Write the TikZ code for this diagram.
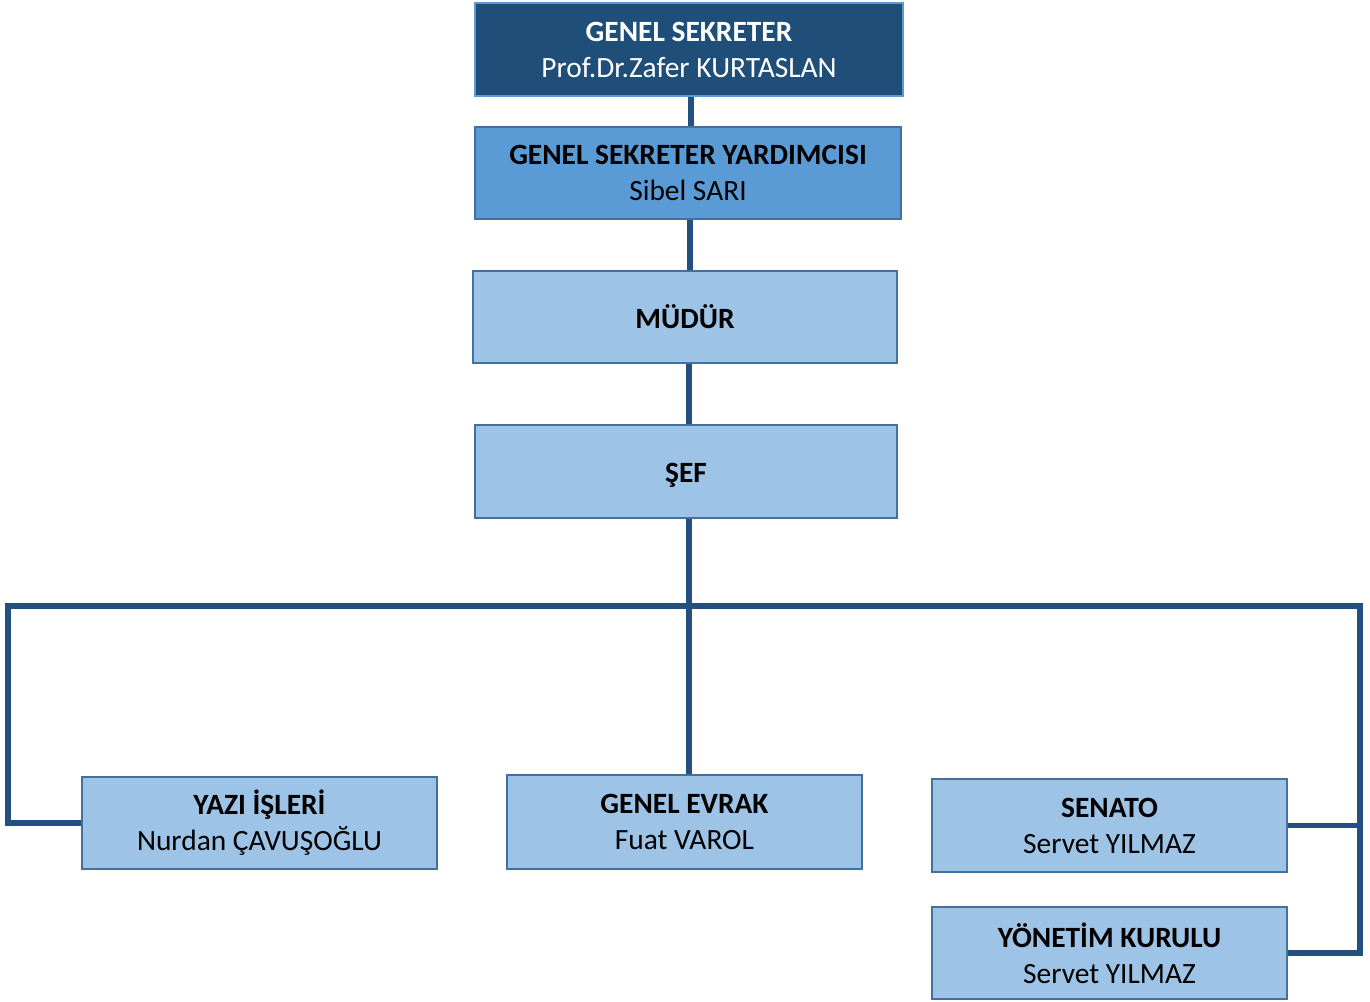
\documentclass[tikz,border=0pt]{standalone}
\usepackage{fontspec}
\setmainfont{Carlito}
\definecolor{dark}{HTML}{1F4E79}
\definecolor{mid}{HTML}{5B9BD5}
\definecolor{light}{HTML}{9DC3E6}
\definecolor{edge}{HTML}{41719C}
\definecolor{lineblue}{HTML}{23507E}
\tikzset{
  box/.style={draw=edge, line width=1pt, rectangle, align=center, inner sep=0pt,
    font=\fontsize{14.7}{18}\selectfont},
  topbox/.style={box, fill=dark, text=white, draw=mid},
  midbox/.style={box, fill=mid, draw=edge},
  lightbox/.style={box, fill=light},
  conn/.style={draw=lineblue, line width=2.6pt}
}
\begin{document}
\begin{tikzpicture}[x=0.5pt, y=-0.5pt]
\useasboundingbox (0,0) rectangle (1370,1001);
\node[topbox, minimum width=214pt, minimum height=46.5pt] (gs) at (689,49.5) {\textbf{GENEL SEKRETER}\\Prof.Dr.Zafer KURTASLAN};
\node[midbox, minimum width=213pt, minimum height=46pt] (gsy) at (688,173) {\textbf{GENEL SEKRETER YARDIMCISI}\\Sibel SARI};
\node[lightbox, minimum width=212pt, minimum height=46pt] (mud) at (685,317) {\textbf{MÜDÜR}};
\node[lightbox, minimum width=211pt, minimum height=46.5pt] (sef) at (686,471.5) {\raisebox{-2pt}[\height][\depth]{\textbf{ŞEF}}};
\node[lightbox, minimum width=177.5pt, minimum height=46pt] (yazi) at (259.5,823) {\textbf{YAZI İŞLERİ}\\Nurdan ÇAVUŞOĞLU};
\node[lightbox, minimum width=177.5pt, minimum height=47pt] (ev) at (684.5,822) {\textbf{GENEL EVRAK}\\Fuat VAROL};
\node[lightbox, minimum width=177.5pt, minimum height=46.5pt] (sen) at (1109.5,825.5) {\textbf{SENATO}\\Servet YILMAZ};
\node[lightbox, minimum width=177.5pt, minimum height=46pt] (yon) at (1109.5,953) {\textbf{YÖNETİM KURULU}\\Servet YILMAZ};
\coordinate (busL) at (8,606);
\coordinate (busR) at (1360,606);
\draw[conn] ([xshift=1pt]gs.south) -- ([xshift=1pt]gs.south |- gsy.north);
\draw[conn] ([xshift=1pt]gsy.south) -- ([xshift=1pt]gsy.south |- mud.north);
\draw[conn] ([xshift=2pt]mud.south) -- ([xshift=2pt]mud.south |- sef.north);
\draw[conn] ([xshift=1.5pt]sef.south) -- ([xshift=1.5pt]sef.south |- ev.north);
\draw[conn] ([xshift=-1.3pt]busL) -- ([xshift=1.3pt]busR);
\draw[conn] (busL) |- (yazi.west);
\draw[conn] (busR) |- (sen.east);
\draw[conn] (busR) |- (yon.east);
\end{tikzpicture}
\end{document}
